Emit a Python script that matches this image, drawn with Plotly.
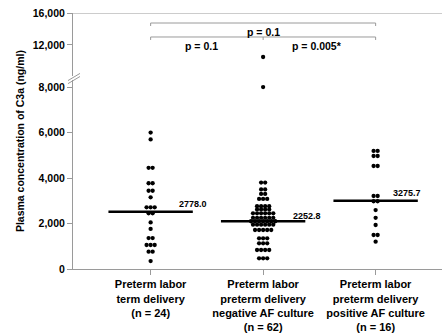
import plotly.graph_objects as go
import numpy as np

# ---------------- data ----------------
categories = [
    "Preterm labor<br>term delivery<br>(n = 24)",
    "Preterm labor<br>preterm delivery<br>negative AF culture<br>(n = 62)",
    "Preterm labor<br>preterm delivery<br>positive AF culture<br>(n = 16)",
]
group1 = [6000, 5700, 4450, 4450, 3770, 3770, 3440, 3440, 3150, 2710, 2710, 2710,
          2450, 2450, 2050, 1760, 1360, 1360, 1055, 1055, 1055, 760, 760, 350]
group2 = [10500, 8000,
          3800, 3800, 3500, 3500, 3300, 3300, 3080, 3080, 3080,
          2760, 2760, 2760, 2760, 2620, 2620, 2620, 2620,
          2450, 2450, 2450, 2450, 2450, 2450,
          2250, 2250, 2250, 2250, 2250, 2250,
          2100, 2100, 2100, 2100, 2100, 2100, 2100,
          1950, 1950, 1950, 1950, 1950, 1950,
          1714, 1714, 1714, 1714, 1714,
          1350, 1350, 1350, 1130, 1130, 1130,
          835, 835, 835, 835, 470, 470, 470]
group3 = [5190, 5190, 4970, 4970, 4530, 4530, 3210, 3210, 2980, 2980,
          2590, 2250, 1934, 1494, 1494, 1200]
groups = [group1, group2, group3]
median_values = [2520, 2100, 3000]
mean_labels = ["2778.0", "2252.8", "3275.7"]
pvalue_texts = ["p = 0.1", "p = 0.1", "p = 0.005*"]

lower_ticks = [0, 2000, 4000, 6000, 8000]
upper_ticks = [12000, 16000]

# ---------------- style ----------------
FONT = "Arial, Liberation Sans, Helvetica, sans-serif"
GRAY = "#9a9a9a"
BREAK = 9000
LOWER_RANGE = [0, 8308]
UPPER_RANGE = [8125, 16000]
LOWER_DOM = [0, 0.738]
UPPER_DOM = [0.754, 1]
DOT_STEP = 0.036
label_dx = [0.23, 0.25, 0.14]

xs_lo, ys_lo, xs_hi, ys_hi = [], [], [], []
for gi, vals in enumerate(groups):
    uniq = sorted(set(vals))
    for v in uniq:
        n = vals.count(v)
        offs = [(k - (n - 1) / 2) * DOT_STEP for k in range(n)]
        for o in offs:
            if v > BREAK:
                xs_hi.append(gi + o); ys_hi.append(v)
            else:
                xs_lo.append(gi + o); ys_lo.append(v)

fig = go.Figure()
mk = dict(color="black", size=4.3, line=dict(width=0))
fig.add_trace(go.Scatter(x=xs_lo, y=ys_lo, mode="markers", marker=mk,
                         xaxis="x", yaxis="y", showlegend=False, hoverinfo="y"))
fig.add_trace(go.Scatter(x=xs_hi, y=ys_hi, mode="markers", marker=mk,
                         xaxis="x", yaxis="y2", showlegend=False, hoverinfo="y"))

shapes = []
annotations = []
# median lines and mean labels
for gi, m in enumerate(median_values):
    shapes.append(dict(type="line", xref="x", yref="y", x0=gi - 0.375, x1=gi + 0.375,
                       y0=m, y1=m, line=dict(color="black", width=2.6)))
    annotations.append(dict(x=gi + label_dx[gi], y=float(mean_labels[gi]) + 60, xref="x", yref="y",
                            text="<b>" + mean_labels[gi] + "</b>", showarrow=False,
                            xanchor="left", yanchor="middle",
                            font=dict(family=FONT, size=9, color="black")))

# p-value brackets (upper segment)
top_y, low_y, tick_h = 14750, 13000, 375
shapes.append(dict(type="line", xref="x", yref="y2", x0=0, x1=2, y0=top_y, y1=top_y,
                   line=dict(color=GRAY, width=1)))
for xx in [0, 2]:
    shapes.append(dict(type="line", xref="x", yref="y2", x0=xx, x1=xx, y0=top_y, y1=top_y - tick_h,
                       line=dict(color=GRAY, width=1)))
shapes.append(dict(type="line", xref="x", yref="y2", x0=0, x1=2, y0=low_y, y1=low_y,
                   line=dict(color=GRAY, width=1)))
for xx in [0, 1, 2]:
    shapes.append(dict(type="line", xref="x", yref="y2", x0=xx, x1=xx, y0=low_y, y1=low_y - tick_h,
                       line=dict(color=GRAY, width=1)))
pfont = dict(family=FONT, size=10.5, color="black")
annotations.append(dict(x=1, y=top_y - 150, xref="x", yref="y2", text="<b>" + pvalue_texts[0] + "</b>",
                        showarrow=False, yanchor="top", font=pfont))
annotations.append(dict(x=0.45, y=low_y - 150, xref="x", yref="y2", text="<b>" + pvalue_texts[1] + "</b>",
                        showarrow=False, yanchor="top", font=pfont))
annotations.append(dict(x=1.48, y=low_y - 150, xref="x", yref="y2", text="<b>" + pvalue_texts[2] + "</b>",
                        showarrow=False, yanchor="top", font=pfont))

# top frame line
shapes.append(dict(type="line", xref="paper", yref="y2", x0=0, x1=1, y0=16000, y1=16000,
                   line=dict(color=GRAY, width=1)))
# axis break marks
for dy in [0.0, 0.012]:
    shapes.append(dict(type="line", xref="paper", yref="paper", x0=-0.0136, x1=0.019,
                       y0=0.724 + dy, y1=0.752 + dy, line=dict(color=GRAY, width=1)))

# y-axis title
annotations.append(dict(x=-0.165, y=0.5, xref="paper", yref="paper",
                        text="<b>Plasma concentration of C3a (ng/ml)</b>", textangle=-90,
                        showarrow=False, font=dict(family=FONT, size=10.5, color="black")))

tickfont = dict(family=FONT, size=10.5, color="black")
fig.update_layout(
    width=442, height=334,
    margin=dict(l=73, r=0, t=13, b=65, autoexpand=False),
    paper_bgcolor="white", plot_bgcolor="white",
    font=dict(family=FONT),
    xaxis=dict(range=[-0.69, 2.59], tickvals=[0, 1, 2],
               ticktext=["<b>" + c + "</b>" for c in categories],
               tickfont=dict(family=FONT, size=11, color="black"),
               showline=True, linecolor=GRAY, linewidth=1, ticks="outside", ticklen=5,
               tickcolor=GRAY, showgrid=False, zeroline=False, anchor="y", automargin=False),
    yaxis=dict(domain=LOWER_DOM, range=LOWER_RANGE, tickvals=lower_ticks,
               ticktext=["<b>" + f"{t:,}" + "</b>" for t in lower_ticks], tickfont=tickfont,
               showline=True, linecolor=GRAY, linewidth=1, ticks="outside", ticklen=5,
               tickcolor=GRAY, showgrid=False, zeroline=False, anchor="x", automargin=False),
    yaxis2=dict(domain=UPPER_DOM, range=UPPER_RANGE, tickvals=upper_ticks,
                ticktext=["<b>" + f"{t:,}" + "</b>" for t in upper_ticks], tickfont=tickfont,
                showline=True, linecolor=GRAY, linewidth=1, ticks="outside", ticklen=5,
                tickcolor=GRAY, showgrid=False, zeroline=False, anchor="x", automargin=False),
    shapes=shapes, annotations=annotations,
)

fig.write_html("out.html", config={"displayModeBar": False},
               post_script="document.body.style.margin='0';document.body.style.overflow='hidden';")
